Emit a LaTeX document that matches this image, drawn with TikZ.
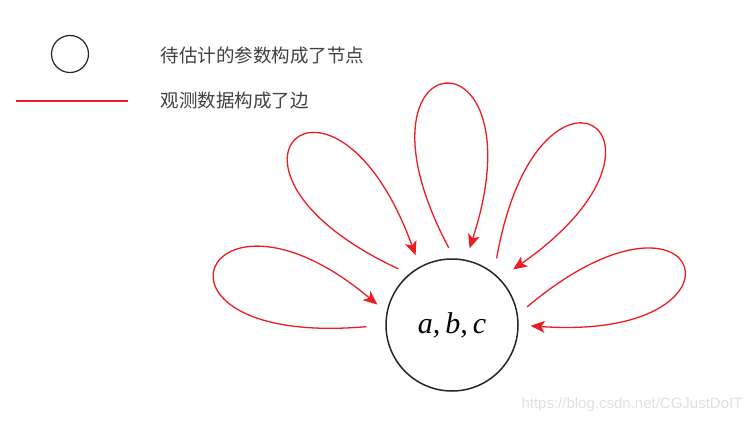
\documentclass[tikz,border=0pt]{standalone}
\usepackage{fontspec}
\newfontfamily\cjk{Noto Sans CJK SC}
\newfontfamily\wmark{Liberation Sans}
\newfontfamily\serif{Liberation Serif}
\usepackage{tikz}
\usetikzlibrary{arrows.meta}
\definecolor{edgered}{RGB}{237,28,36}
\definecolor{txtgray}{RGB}{64,64,64}
\tikzstyle{param} = [draw=black!85, circle, line width=1.5pt, inner sep=0pt]
\tikzstyle{obs} = [draw=edgered, line width=1.3pt, -{Stealth[length=14pt,width=12pt,inset=3.5pt]}, fill=none, shorten <=12pt, shorten >=12pt]
\tikzstyle{legend} = [anchor=west, text=txtgray, font=\cjk\fontsize{18.5}{20}\selectfont]

\begin{document}
\begin{tikzpicture}[x=1pt, y=1pt]
	\useasboundingbox (0,0) rectangle (754,424);
	% legend
	\node (KEY_NODE) [param, line width=1.2pt, minimum size=37pt] at (70,370) {};
	\node (KEY_NODE_TEXT) [legend] at (157,369) {待估计的参数构成了节点};
	\coordinate (KEY_EDGE_L) at (16,323);
	\coordinate (KEY_EDGE_R) at (128,323);
	\node (KEY_EDGE_TEXT) [legend] at (157,323) {观测数据构成了边};
	\draw[edgered, line width=1.3pt](KEY_EDGE_L)--(KEY_EDGE_R);
	% parameters and observations
	\node (ABC) [param, minimum size=132pt, font=\serif\fontsize{30}{32}\selectfont] at (452,99) {\itshape a,\,b,\,c};
	\draw[obs, shorten <=19pt](ABC.180) to[out=185, in=140, out distance=262pt, in distance=240pt] (ABC.169);
	\draw[obs](ABC.130) to[out=155, in=110, distance=250pt] (ABC.119);
	\draw[obs](ABC.88) to[out=118, in=72, distance=250pt] (ABC.78);
	\draw[obs, shorten <=15pt, shorten >=16pt](ABC.51) to[out=80, in=35, distance=250pt] (ABC.44);
	\draw[obs](ABC.9) to[out=40, in=-4, distance=245pt] (ABC.0);
	\node (URL) [anchor=east, text=black!12, font=\wmark\fontsize{15}{16}\selectfont] at (746,19) {https://blog.csdn.net/CGJustDoIT};
\end{tikzpicture}
\end{document}
